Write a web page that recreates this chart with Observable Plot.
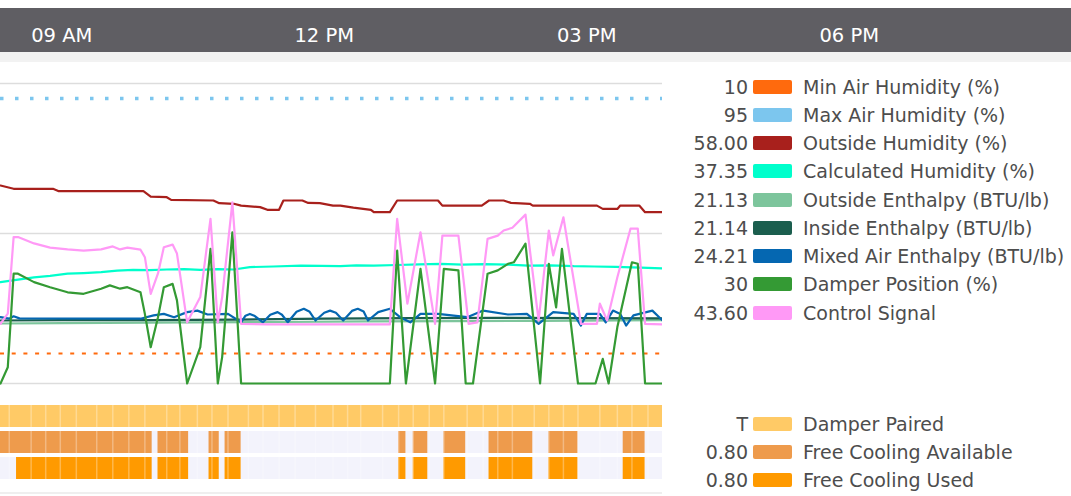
<!DOCTYPE html>
<html><head><meta charset="utf-8">
<script src="https://cdn.jsdelivr.net/npm/d3@7"></script>
<script src="https://cdn.jsdelivr.net/npm/@observablehq/plot@0.6"></script>
<style>
body{margin:0;background:#fff;font-family:"DejaVu Sans",sans-serif;}
#root{position:relative;width:1071px;height:496px;overflow:hidden;background:#fff;}
#root > *{position:absolute;}
.lg{position:absolute;left:0;width:1071px;height:20px;font-size:19px;color:#4d4d4d;white-space:nowrap;}
.lg .v{position:absolute;right:323px;top:0;line-height:20px;text-align:right;}
.lg .s{position:absolute;left:753px;top:3px;width:39px;height:14px;border-radius:2px;}
.lg .n{position:absolute;left:803px;top:0;line-height:20px;}
</style></head><body><div id="root"></div>
<script>
// ---------- data ----------
const timeDomain = ["08:18", "20:32"];
const tickTimes = ["09:00", "12:00", "15:00", "18:00"];
const gridValues = [0, 50, 100];
const minAirHumidity = 10;
const maxAirHumidity = 95;

const outsideHumidity = [["08:18",66.0],["08:27",64.9],["08:54",64.9],["08:58",64.1],["09:56",64.1],["10:01",62.3],["10:12",62.1],["10:15",61.2],["10:44",61.0],["10:48",60.1],["10:58",59.9],["11:03",59.3],["11:16",58.8],["11:21",57.9],["11:29",57.9],["11:32",61.0],["11:45",61.0],["11:49",60.2],["11:57",60.1],["12:06",59.3],["12:11",59.3],["12:20",58.6],["12:32",57.9],["12:34",57.1],["12:45",57.1],["12:50",61.0],["13:18",61.0],["13:21",59.3],["13:48",59.3],["13:53",61.0],["14:03",61.0],["14:08",60.2],["14:21",59.9],["14:23",59.3],["15:07",59.3],["15:11",58.2],["15:21",58.2],["15:23",59.3],["15:36",59.3],["15:40",57.1],["15:52",57.1]];

const calculatedHumidity = [["08:18",33.8],["08:30",34.6],["08:41",35.4],["08:52",35.9],["09:04",36.6],["09:15",36.8],["09:27",37.1],["09:38",37.6],["09:49",37.9],["10:00",37.8],["10:12",38.0],["10:24",38.1],["10:35",37.9],["10:47",38.1],["10:58",38.0],["11:09",38.8],["11:25",39.0],["11:44",39.3],["11:58",39.2],["12:11",39.1],["12:22",39.4],["12:34",39.3],["12:50",39.5],["13:05",39.7],["13:20",39.9],["13:35",39.6],["13:50",39.8],["14:06",39.6],["14:20",39.3],["14:35",39.4],["14:51",39.1],["15:05",39.0],["15:20",38.9],["15:37",38.6],["15:52",38.4]];

const outsideEnthalpy = [["08:18",20.0],["09:00",20.1],["09:30",20.2],["10:30",20.4],["11:30",20.5],["12:30",20.7],["13:30",20.8],["14:30",20.9],["15:52",21.1]];

const insideEnthalpy = [["08:18",21.0],["09:00",21.1],["10:00",21.1],["11:00",21.3],["12:00",21.6],["13:00",21.8],["14:00",21.9],["15:00",21.8],["15:52",21.7]];

const mixedAirEnthalpy = [["08:18",22.1],["08:24",21.6],["08:27",22.4],["08:31",21.7],["09:54",21.6],["10:03",22.7],["10:10",23.2],["10:17",22.1],["10:26",23.8],["10:33",24.3],["10:40",23.0],["10:54",23.2],["11:03",20.4],["11:06",22.6],["11:09",23.2],["11:12",22.6],["11:18",20.4],["11:23",22.9],["11:28",23.8],["11:31",22.9],["11:35",20.4],["11:41",23.9],["11:46",24.9],["11:50",23.9],["11:54",21.0],["12:00",23.6],["12:04",24.3],["12:08",23.6],["12:13",21.0],["12:19",24.2],["12:23",24.9],["12:27",24.0],["12:30",21.0],["12:37",23.8],["12:45",24.9],["12:52",22.1],["12:59",20.4],["13:06",23.2],["13:18",23.2],["13:38",22.1],["13:49",24.3],["14:06",23.0],["14:19",23.2],["14:27",19.9],["14:37",23.8],["14:51",23.2],["14:56",19.3],["15:00",23.2],["15:09",23.2],["15:13",20.4],["15:18",24.3],["15:23",23.2],["15:27",19.3],["15:32",22.7],["15:45",24.3],["15:52",21.0]];

const damperPosition = [["08:18",0],["08:23",5.4],["08:27",36.6],["08:30",36.6],["08:41",33.8],["08:52",32.1],["09:04",30.4],["09:15",29.9],["09:27",31.6],["09:33",32.7],["09:40",31.6],["09:45",32.1],["09:54",30.4],["09:57",23.2],["10:01",12.1],["10:06",22.1],["10:10",32.1],["10:16",33.2],["10:19",27.7],["10:26",0],["10:35",12.1],["10:42",44.9],["10:47",0],["10:50",8.8],["10:57",50.4],["11:03",0],["12:45",0],["12:50",44.3],["12:56",0],["13:06",38.2],["13:16",0],["13:22",38.2],["13:32",37.7],["13:37",0],["13:42",0],["13:52",36.6],["13:59",37.7],["14:06",39.9],["14:10",40.4],["14:18",46.6],["14:28",0],["14:34",39.9],["14:39",25.4],["14:43",44.9],["14:54",0],["15:06",0],["15:11",8.2],["15:15",0],["15:21",18.8],["15:31",40.4],["15:35",39.9],["15:40",0],["15:52",0]];

const controlSignal = [["08:18",19.9],["08:23",23.3],["08:27",48.8],["08:30",48.8],["08:41",46.7],["08:52",45.3],["09:04",44.7],["09:15",44.3],["09:27",44.7],["09:35",45.7],["09:40",44.7],["09:45",45.3],["09:54",44.6],["09:57",42.1],["10:01",29.9],["10:06",36.7],["10:10",45.4],["10:16",46.3],["10:19",43.3],["10:26",20.4],["10:35",28.8],["10:42",54.9],["10:47",20.4],["10:50",28.8],["10:57",60.4],["11:03",19.9],["11:21",19.7],["12:45",19.7],["12:50",54.9],["12:57",26.6],["13:06",50.4],["13:16",19.9],["13:21",49.3],["13:32",49.3],["13:39",19.9],["13:45",20.4],["13:52",48.2],["13:59",49.3],["14:03",51.0],["14:09",51.9],["14:18",56.3],["14:27",21.0],["14:34",51.0],["14:37",42.7],["14:44",55.4],["14:56",19.9],["15:07",19.9],["15:09",26.6],["15:14",21.0],["15:21",35.4],["15:30",51.6],["15:35",51.6],["15:40",19.9],["15:52",19.7]];

const statusRows = ["Damper Paired", "Free Cooling Available", "Free Cooling Used"];
const damperPaired = [["08:18","15:52"]];
const freeCoolingAvailable = [["08:18","10:02"],["10:06","10:27"],["10:41","10:48"],["10:52","11:03"],["12:51","12:56"],["13:01","13:11"],["13:22","13:37"],["13:53","14:23"],["14:34","14:54"],["15:25","15:40"]];
const freeCoolingUsed = [["08:29","10:02"],["10:06","10:27"],["10:41","10:48"],["10:52","11:03"],["12:51","12:56"],["13:01","13:11"],["13:22","13:37"],["13:53","14:23"],["14:34","14:54"],["15:25","15:40"]];
const statusSamples = ["08:24","08:39","08:49","08:59","09:10","09:24","09:35","09:46","09:57","10:12","10:21","10:33","10:43","10:54","11:08","11:18","11:29","11:40","11:54","12:06","12:16","12:25","12:40","12:51","13:01","13:12","13:22","13:38","13:49","13:59","14:09","14:24","14:34","14:44","14:54","15:09","15:21","15:31","15:42"];

const legendNames = ["Min Air Humidity (%)","Max Air Humidity (%)","Outside Humidity (%)","Calculated Humidity (%)","Outside Enthalpy (BTU/lb)","Inside Enthalpy (BTU/lb)","Mixed Air Enthalpy (BTU/lb)","Damper Position (%)","Control Signal"];
const legendValues = ["10","95","58.00","37.35","21.13","21.14","24.21","30","43.60"];
const legendColors = ["#ff6a0d","#7cc6ee","#a8201c","#00ffcc","#7dc59c","#1b5e4e","#0567b1","#349a34","#ff99f6"];
const statusNames = ["Damper Paired","Free Cooling Available","Free Cooling Used"];
const statusValues = ["T","0.80","0.80"];
const statusColors = ["#ffca66","#ee9b4c","#ff9a00"];

// ---------- helpers ----------
const T = s => { const [h, m] = s.split(":").map(Number); return new Date(2024, 2, 12, h, m); };
const xScale = {type: "time", domain: timeDomain.map(T), range: [0, 1070.4], axis: null};
const pts = arr => arr.map(([t, v]) => ({t: T(t), v}));
const root = document.getElementById("root");

// top band
const band = document.createElement("div");
Object.assign(band.style, {left: "0px", top: "52px", width: "1071px", height: "10px", background: "#f2f2f2"});
root.appendChild(band);

// top time axis
const axisSvg = Plot.plot({
  width: 1071, height: 44, margin: 0,
  style: {background: "#5f5e63", overflow: "hidden"},
  x: xScale,
  marks: [
    Plot.text(tickTimes.map(T), {x: d => d, frameAnchor: "middle", dy: 5, text: d => d3.timeFormat("%I %p")(d), fill: "#ffffff", fontSize: 19.5, fontFamily: "DejaVu Sans"})
  ]
});
axisSvg.style.left = "0px"; axisSvg.style.top = "8px";
root.appendChild(axisSvg);

// main chart
const series = [
  [outsideHumidity, legendColors[2]],
  [calculatedHumidity, legendColors[3]],
  [outsideEnthalpy, legendColors[4]],
  [insideEnthalpy, legendColors[5]],
  [mixedAirEnthalpy, legendColors[6]],
  [damperPosition, legendColors[7]],
  [controlSignal, legendColors[8]]
];
const mainSvg = Plot.plot({
  width: 662, height: 330, margin: 0,
  style: {background: "#ffffff", overflow: "hidden"},
  x: xScale,
  y: {domain: [0, 100], range: [321, 21], axis: null},
  marks: [
    Plot.ruleY(gridValues, {stroke: "#dddddd", strokeWidth: 1.5}),
    Plot.ruleY([minAirHumidity], {stroke: legendColors[0], strokeWidth: 1.8, strokeDasharray: "4 7.7"}),
    Plot.ruleY([maxAirHumidity], {stroke: legendColors[1], strokeWidth: 3.5, strokeDasharray: "3.5 11.5"}),
    ...series.map(([d, c]) => Plot.line(pts(d), {x: "t", y: "v", stroke: c, strokeWidth: 2.2, strokeLinejoin: "round"}))
  ]
});
mainSvg.style.left = "0px"; mainSvg.style.top = "62px";
root.appendChild(mainSvg);

// status bars
const seg = (arr, row) => arr.map(([a, b]) => ({a: T(a), b: T(b), row}));
const cells = statusRows.flatMap(row => statusSamples.map(t => ({t: T(t), row})));
const statusSvg = Plot.plot({
  width: 662, height: 104, margin: 0,
  style: {background: "#ffffff", overflow: "hidden"},
  x: xScale,
  y: {type: "band", domain: statusRows, range: [13, 87], paddingInner: 0.16, paddingOuter: 0, axis: null},
  marks: [
    Plot.barX(seg([[timeDomain[0], "15:52"]], statusRows[1]).concat(seg([[timeDomain[0], "15:52"]], statusRows[2])), {x1: "a", x2: "b", y: "row", fill: "#f3f3fc"}),
    Plot.barX(seg(damperPaired, statusRows[0]), {x1: "a", x2: "b", y: "row", fill: statusColors[0]}),
    Plot.barX(seg(freeCoolingAvailable, statusRows[1]), {x1: "a", x2: "b", y: "row", fill: statusColors[1]}),
    Plot.barX(seg(freeCoolingUsed, statusRows[2]), {x1: "a", x2: "b", y: "row", fill: statusColors[2]}),
    Plot.tickX(cells, {x: "t", y: "row", stroke: "#ffffff", strokeOpacity: 0.3, strokeWidth: 1.5})
  ]
});
statusSvg.style.left = "0px"; statusSvg.style.top = "392px";
root.appendChild(statusSvg);

const bottomLine = document.createElement("div");
Object.assign(bottomLine.style, {left: "0px", top: "492px", width: "662px", height: "2px", background: "#efefef"});
root.appendChild(bottomLine);

// legends
function legendRow(value, color, name, cy) {
  const row = document.createElement("div");
  row.className = "lg";
  row.style.top = (cy - 10) + "px";
  row.innerHTML = `<span class="v"></span><span class="s"></span><span class="n"></span>`;
  row.querySelector(".v").textContent = value;
  row.querySelector(".s").style.background = color;
  row.querySelector(".n").textContent = name;
  root.appendChild(row);
}
legendNames.forEach((n, i) => legendRow(legendValues[i], legendColors[i], n, 86.5 + 28.25 * i));
statusNames.forEach((n, i) => legendRow(statusValues[i], statusColors[i], n, 423.5 + 28 * i));
</script></body></html>
